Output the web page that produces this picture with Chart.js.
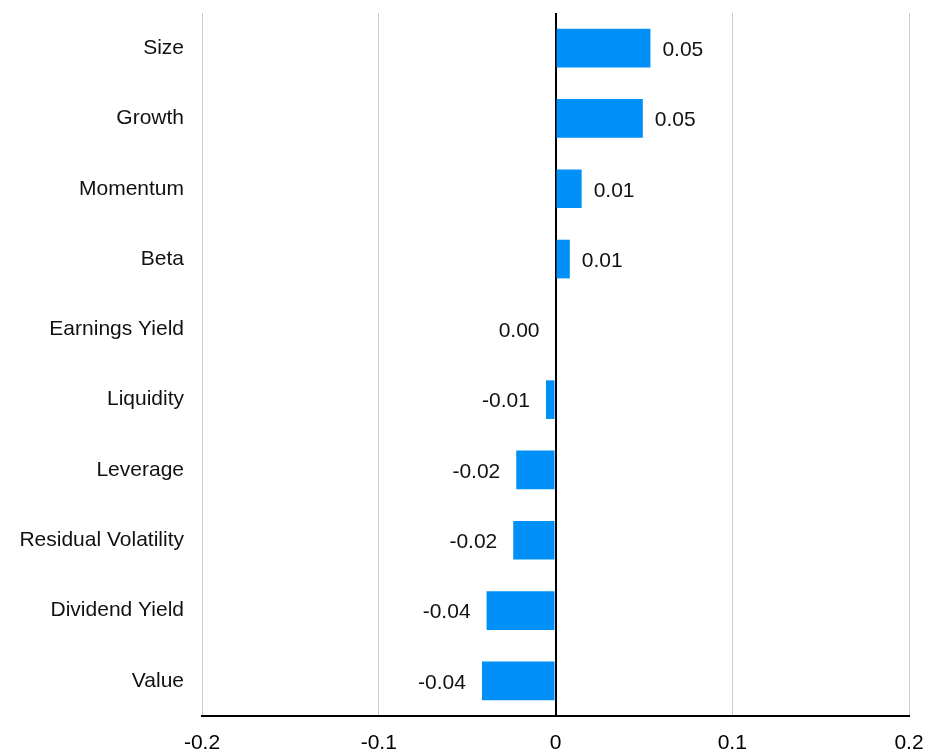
<!DOCTYPE html>
<html>
<head>
<meta charset="utf-8">
<script src="https://cdn.jsdelivr.net/npm/chart.js@4/dist/chart.umd.min.js"></script>
<style>
  html, body { margin: 0; padding: 0; background: #fff; }
  #wrap { width: 926px; height: 750px; position: relative; }
</style>
</head>
<body>
<div id="wrap"><canvas id="myChart"></canvas></div>
<script>
'use strict';

// factor names, top to bottom
let factors = ['Size', 'Growth', 'Momentum', 'Beta', 'Earnings Yield', 'Liquidity',
  'Leverage', 'Residual Volatility', 'Dividend Yield', 'Value'];
// exposures
let exposures = [0.0537, 0.0494, 0.0148, 0.0081, 0.0, -0.0054, -0.0222, -0.0239, -0.0390, -0.0416];
let xTicks = [-0.2, -0.1, 0, 0.1, 0.2];

let barColor = '#0090f7';
let fontFam = '"Liberation Sans", Arial, sans-serif';

// draws the value next to each bar
let valueLabels = {
  id: 'valueLabels',
  afterDatasetsDraw(chart) {
    let ctx = chart.ctx;
    let meta = chart.getDatasetMeta(0);
    let zero = chart.scales.x.getPixelForValue(0);
    ctx.save();
    ctx.font = '21px ' + fontFam;
    ctx.fillStyle = '#111';
    ctx.textBaseline = 'middle';
    meta.data.forEach(function (bar, i) {
      let v = exposures[i];
      let txt = v.toFixed(2);
      if (v > 0) {
        ctx.textAlign = 'left';
        ctx.fillText(txt, bar.x + 12, bar.y + 2);
      } else {
        ctx.textAlign = 'right';
        ctx.fillText(txt, Math.min(bar.x, zero) - 16, bar.y + 2);
      }
    });
    ctx.restore();
  }
};

let ctx = document.getElementById('myChart').getContext('2d');
let myChart = new Chart(ctx, {
  type: 'bar',
  data: {
    labels: factors,
    datasets: [{
      data: exposures,
      backgroundColor: barColor,
      borderWidth: 0,
      barPercentage: 0.55,
      categoryPercentage: 1
    }]
  },
  options: {
    indexAxis: 'y',
    responsive: true,
    maintainAspectRatio: false,
    animation: false,
    layout: { padding: { top: 13, right: 17, bottom: 0, left: 0 } },
    plugins: {
      legend: { display: false },
      tooltip: { enabled: false }
    },
    scales: {
      x: {
        min: -0.2,
        max: 0.2,
        afterBuildTicks: function (scale) {
          scale.ticks = xTicks.map(function (v) { return { value: v }; });
        },
        afterFit: function (scale) {
          scale.height = 34;
          scale.paddingLeft = 0;
          scale.paddingRight = 0;
        },
        ticks: {
          color: '#000',
          padding: 15,
          maxRotation: 0,
          font: { family: fontFam, size: 21 },
          callback: function (v) { return String(v); }
        },
        grid: {
          drawTicks: false,
          color: function (c) { return c.tick && c.tick.value === 0 ? '#000' : '#cccccc'; },
          lineWidth: function (c) { return c.tick && c.tick.value === 0 ? 2 : 1; }
        },
        border: { display: true, color: '#000', width: 2 }
      },
      y: {
        afterFit: function (scale) {
          scale.width = 202;
          scale.paddingTop = 0;
          scale.paddingBottom = 0;
        },
        ticks: {
          color: '#111',
          padding: 18,
          font: { family: fontFam, size: 21 }
        },
        grid: { display: false, drawTicks: false },
        border: { display: false }
      }
    }
  },
  plugins: [valueLabels]
});
</script>
</body>
</html>
